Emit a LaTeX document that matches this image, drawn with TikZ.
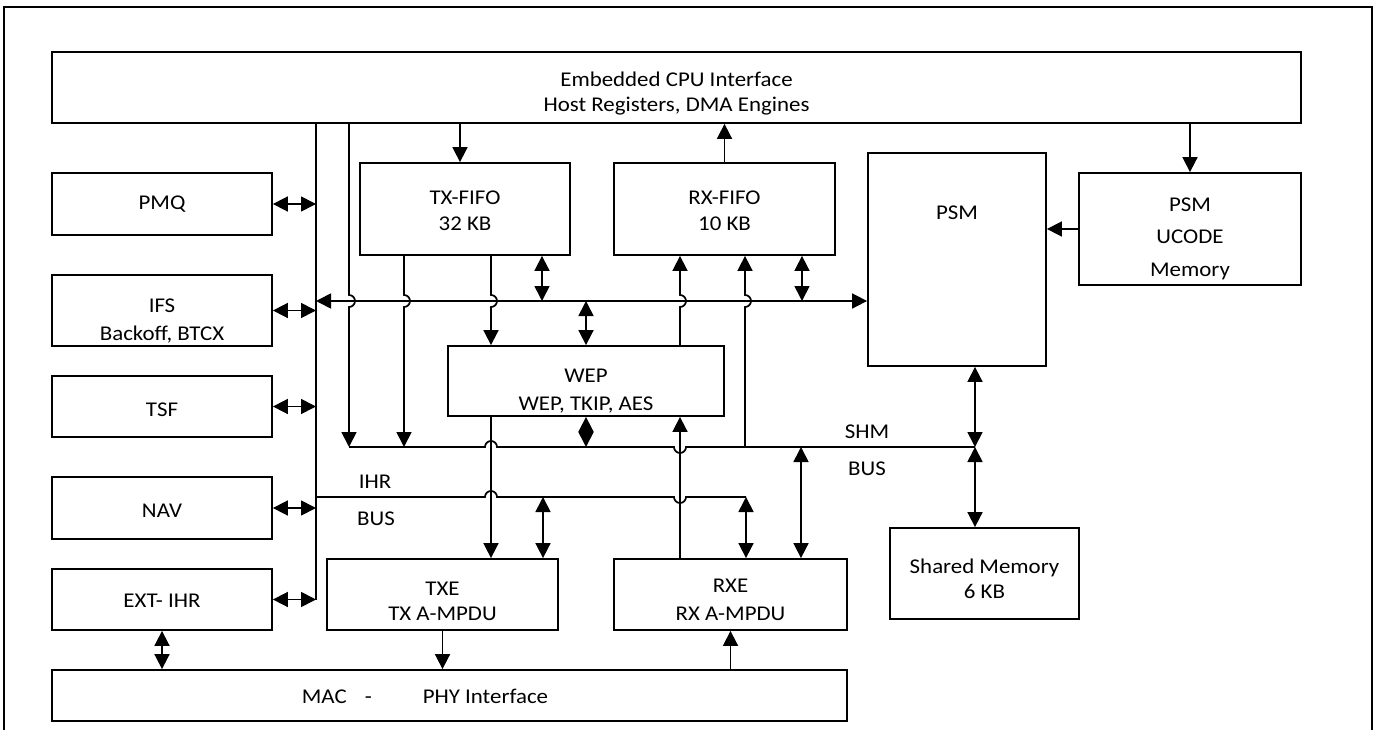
\documentclass[tikz,border=0pt]{standalone}
\usepackage{fontspec}
\setmainfont{Carlito}[FakeStretch=1.09]
\usetikzlibrary{arrows.meta,calc}
\begin{document}
\begin{tikzpicture}[x=1pt,y=-1pt,
  every node/.style={font=\fontsize{21}{26}\selectfont},
  box/.style={draw, line width=1.8pt, rectangle, inner sep=0pt},
  txt/.style={align=center, inner sep=0pt},
  conn/.style={line width=1.7pt},
  arr/.style={conn, -{Triangle[length=15pt,width=15pt]}},
  darr/.style={conn, {Triangle[length=15pt,width=15pt]}-{Triangle[length=15pt,width=15pt]}},
]
\useasboundingbox (0,0) rectangle (1383,730);
% outer frame
\draw[line width=2pt] (4,730) -- (4,7) -- (1372,7) -- (1372,730);

% boxes
\node[box, minimum width=1249pt, minimum height=71pt] (cpu) at (676.5,87.5) {};
\node[box, minimum width=220pt, minimum height=62pt] (pmq) at (162,204) {};
\node[box, minimum width=220pt, minimum height=71pt] (ifs) at (162,310.5) {};
\node[box, minimum width=220pt, minimum height=61pt] (tsf) at (162,406.5) {};
\node[box, minimum width=220pt, minimum height=62pt] (nav) at (162,508) {};
\node[box, minimum width=220pt, minimum height=61pt] (ext) at (162,599.5) {};
\node[box, minimum width=795pt, minimum height=51pt] (mac) at (449.5,695.5) {};
\node[box, minimum width=231pt, minimum height=71pt] (txe) at (442.5,594.5) {};
\node[box, minimum width=233pt, minimum height=71pt] (rxe) at (730.5,594.5) {};
\node[box, minimum width=210pt, minimum height=92pt] (txfifo) at (465,209) {};
\node[box, minimum width=221pt, minimum height=92pt] (rxfifo) at (724.5,209) {};
\node[box, minimum width=178pt, minimum height=213pt] (psm) at (957,259.5) {};
\node[box, minimum width=222pt, minimum height=112pt] (ucode) at (1190,229) {};
\node[box, minimum width=276pt, minimum height=70pt] (wep) at (586,381) {};
\node[box, minimum width=189pt, minimum height=91pt] (shm) at (984.5,573.5) {};

% texts
\node[txt, font=\fontsize{21}{25}\selectfont] (cputext) at (676.5,94) {Embedded CPU Interface\\Host Registers, DMA Engines};
\node[txt] (pmqtext) at (162,204) {PMQ};
\node[txt, font=\fontsize{21}{28}\selectfont] (ifstext) at (162,321) {IFS\\Backoff, BTCX};
\node[txt] (tsftext) at (162,409.5) {TSF};
\node[txt] (navtext) at (162,511) {NAV};
\node[txt] (exttext) at (162,600.5) {EXT- IHR};
\node[txt, font=\fontsize{21}{26}\selectfont] (txfifotext) at (465,211) {TX-FIFO\\32 KB};
\node[txt, font=\fontsize{21}{26}\selectfont] (rxfifotext) at (724.5,211) {RX-FIFO\\10 KB};
\node[txt] (psmtext) at (957,213) {PSM};
\node[txt, font=\fontsize{21}{32.5}\selectfont] (ucodetext) at (1190,238.5) {PSM\\UCODE\\Memory};
\node[txt, font=\fontsize{21}{28}\selectfont] (weptext) at (586,391) {WEP\\WEP, TKIP, AES};
\node[txt, font=\fontsize{21}{25}\selectfont] (txetext) at (442.5,601) {TXE\\TX A-MPDU};
\node[txt, font=\fontsize{21}{28}\selectfont] (rxetext) at (730.5,600) {RXE\\RX A-MPDU};
\node[txt, font=\fontsize{21}{25}\selectfont] (shmtext) at (984.5,578.5) {Shared Memory\\6 KB};
\node[txt] (mactext) at (425,696) {MAC\hspace{18pt}-\hspace{51pt}PHY Interface};
\node[txt] (shmlab) at (867,432) {SHM};
\node[txt] (shmbus) at (867,469) {BUS};
\node[txt] (ihrlab) at (375,482) {IHR};
\node[txt] (ihrbus) at (376,519) {BUS};

% x positions
\coordinate (xL1) at (316,0);

% left vertical bus and side arrows
\draw[conn] (cpu.south -| xL1) -- (ext.east -| xL1);
\foreach \n in {pmq,ifs,tsf,nav,ext} \draw[darr] (\n.east) -- (\n.east -| xL1);

% second vertical line from CPU to SHM bus
\draw[arr] (cpu.south -| 349,0) -- (349,295) arc[start angle=90,end angle=-90,radius=6pt] -- (349,447);
% CPU links
\draw[arr] (cpu.south -| 460,0) -- (txfifo.north -| 460,0);
\draw[arr] (rxfifo.north) -- (cpu.south -| rxfifo.north);
\draw[arr] (cpu.south -| ucode.north) -- (ucode.north);
\draw[arr] (ucode.west) -- (ucode.west -| psm.east);

% upper horizontal bus
\draw[darr] (316,301) -- (psm.west |- 0,301);

% TX-FIFO outputs
\draw[arr] (txfifo.south -| 404,0) -- (404,295) arc[start angle=90,end angle=-90,radius=6pt] -- (404,447);
\draw[arr] (txfifo.south -| 491,0) -- (491,295) arc[start angle=90,end angle=-90,radius=6pt] -- (wep.north -| 491,0);
\draw[darr] (txfifo.south -| 542,0) -- (542,301);
\draw[darr] (586,301) -- (wep.north);

% RX-FIFO inputs
\draw[arr] (wep.north -| 680,0) -- (680,307) arc[start angle=-90,end angle=90,radius=6pt] -- (rxfifo.south -| 680,0);
\draw[arr] (745,447) -- (745,307) arc[start angle=-90,end angle=90,radius=6pt] -- (rxfifo.south -| 745,0);
\draw[darr] (rxfifo.south -| 802,0) -- (802,301);

% SHM bus
\draw[conn] (349,447) -- (485,447) arc[start angle=180,end angle=0,radius=6pt] -- (674,447) arc[start angle=180,end angle=360,radius=6pt] -- (975,447);
% IHR bus
\draw[conn] (316,497) -- (485,497) arc[start angle=180,end angle=0,radius=6pt] -- (674,497) arc[start angle=180,end angle=360,radius=6pt] -- (746,497);

% WEP lower links
\draw[arr] (wep.south -| 491,0) -- (txe.north -| 491,0);
\draw[arr] (rxe.north -| 680,0) -- (wep.south -| 680,0);
\draw[darr] (wep.south) -- (586,447);

% TXE / RXE bus links
\draw[darr] (543,497) -- (txe.north -| 543,0);
\draw[darr] (746,497) -- (rxe.north -| 746,0);
\draw[darr] (801,447) -- (rxe.north -| 801,0);

% PSM / Shared memory
\draw[darr] (psm.south -| 975,0) -- (975,447);
\draw[darr] (975,447) -- (shm.north -| 975,0);

% MAC-PHY links
\draw[arr] (txe.south) -- (mac.north -| txe.south);
\draw[arr] (mac.north -| rxe.south) -- (rxe.south);
\draw[darr] (ext.south) -- (mac.north -| ext.south);
\end{tikzpicture}
\end{document}
